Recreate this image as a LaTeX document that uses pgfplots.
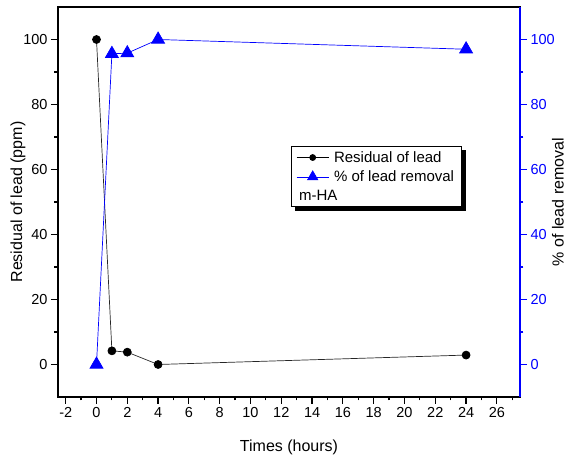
\documentclass[border=0pt]{standalone}
\usepackage{fontspec}
\setmainfont{Liberation Sans}
\usepackage{pgfplots}
\pgfplotsset{compat=1.18}
\pgfdeclarelayer{background}
\pgfsetlayers{background,main}
\begin{document}
\begin{tikzpicture}
\path[use as bounding box] (-58pt,-63pt) rectangle (508pt,397pt);
\pgfplotsset{
  common/.style={
    width=462pt, height=390pt, scale only axis,
    at={(0pt,0pt)}, anchor=south west,
    xmin=-2.5, xmax=27.5, ymin=-10, ymax=110,
    tick align=outside, major tick length=7pt, minor tick length=3.5pt,
    /pgf/number format/assume math mode=true,
    tick label style={font=\fontsize{14.5}{16}\selectfont},
  }
}
\begin{axis}[common,
  axis line style={line width=1.5pt},
  xtick={-2,0,...,26}, minor xtick={-1,1,...,27},
  ytick={0,20,...,100}, minor ytick={10,30,50,70,90},
  xtick pos=bottom, ytick pos=left,
  tick style={line width=1.2pt, black},
  xlabel={Times (hours)}, ylabel={Residual of lead (ppm)},
  every axis x label/.style={at={(axis description cs:0.5,-0.128)}, anchor=center, font=\fontsize{16}{18}\selectfont},
  every axis y label/.style={at={(axis description cs:-0.0866,0.5)}, anchor=center, rotate=90, font=\fontsize{16}{18}\selectfont},
]
\addplot[black!85, line width=0.7pt, mark=*, mark size=4pt, mark options={solid, black}]
  coordinates {(0,100) (1,4.2) (2,3.8) (4,0) (24,2.9)};
\end{axis}
\begin{axis}[common,
  axis x line=none, axis y line*=right,
  y axis line style={blue, line width=1.5pt},
  ytick={0,20,...,100}, minor ytick={10,30,50,70,90},
  ytick style={line width=1.2pt, blue},
  yticklabel style={blue},
  ylabel={\% of lead removal},
  every axis y label/.style={at={(axis description cs:1.082,0.5)}, anchor=center, rotate=90, font=\fontsize{16}{18}\selectfont},
  legend image code/.code={\draw[mark repeat=2,mark phase=2,#1] plot coordinates {(0pt,0pt) (16pt,0pt) (32pt,0pt)};},
  legend cell align=left,
  legend style={at={(0.504,0.644)}, anchor=north west, name=leg,
    font=\fontsize{15}{17}\selectfont, draw=black, line width=1pt,
    fill=white, inner xsep=5pt, inner ysep=3pt, row sep=3pt,
    /tikz/every odd column/.append style={column sep=3pt}},
]
\addlegendimage{black, line width=0.7pt, mark=*, mark size=3pt, mark options={solid}}
\addlegendentry{Residual of lead}
\addplot[blue, line width=0.7pt, mark=triangle*, mark size=7.5pt, mark options={solid}, forget plot]
  coordinates {(0,0) (1,95.6) (2,95.8) (4,100) (24,97)};
\addlegendimage{blue, line width=0.7pt, mark=triangle*, mark size=6pt, mark options={solid}}
\addlegendentry{\% of lead removal}
\addlegendimage{empty legend}
\addlegendentry{\hspace*{-35pt}m-HA}
\end{axis}
\begin{pgfonlayer}{background}
\fill[black] ([shift={(4pt,-4pt)}]leg.south west) rectangle ([shift={(4pt,-4pt)}]leg.north east);
\end{pgfonlayer}
\end{tikzpicture}
\end{document}
